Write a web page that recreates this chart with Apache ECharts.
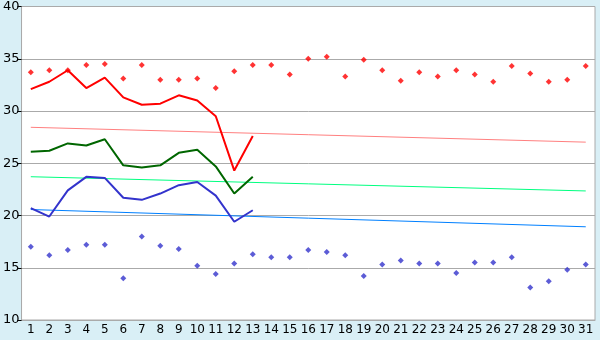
<!DOCTYPE html>
<html><head><meta charset="utf-8">
<script src="https://cdn.jsdelivr.net/npm/echarts@6/dist/echarts.min.js"></script>
<style>html,body{margin:0;padding:0;background:#d9eff6}#c{width:600px;height:340px}</style>
</head><body><div id="c"></div>
<script>
const days = ['1','2','3','4','5','6','7','8','9','10','11','12','13','14','15','16','17','18','19','20','21','22','23','24','25','26','27','28','29','30','31'];
const maxPoints = [33.7,33.9,33.9,34.4,34.5,33.1,34.4,33.0,33.0,33.1,32.2,33.8,34.4,34.4,33.5,35.0,35.2,33.3,34.9,33.9,32.9,33.7,33.3,33.9,33.5,32.8,34.3,33.6,32.8,33.0,34.3];
const minPoints = [17.0,16.2,16.7,17.2,17.2,14.0,18.0,17.1,16.8,15.2,14.4,15.4,16.3,16.0,16.0,16.7,16.5,16.2,14.2,15.3,15.7,15.4,15.4,14.5,15.5,15.5,16.0,13.1,13.7,14.8,15.3];
const maxLine = [32.1,32.8,33.9,32.2,33.2,31.3,30.6,30.7,31.5,31.0,29.5,24.3,27.6];
const meanLine = [26.1,26.2,26.9,26.7,27.3,24.8,24.6,24.8,26.0,26.3,24.7,22.1,23.7];
const minLine = [20.7,19.9,22.4,23.7,23.6,21.7,21.5,22.1,22.9,23.2,21.9,19.4,20.5];
const trendMax = [28.44, 27.02];
const trendMean = [23.71, 22.35];
const trendMin = [20.57, 18.92];
const yTicks = {min: 10, max: 40, interval: 5};

const chart = echarts.init(document.getElementById('c'));
const trend = (vals, color) => ({
  type: 'line', data: [[days[0], vals[0]], [days[days.length-1], vals[1]]],
  symbol: 'none', lineStyle: {color: color, width: 1}, z: 1, silent: true
});
chart.setOption({
  animation: false,
  backgroundColor: '#d9eff6',
  textStyle: {fontFamily: 'DejaVu Sans'},
  grid: {left: 20, right: 5, top: 5, bottom: 20, show: true, backgroundColor: '#ffffff', borderColor: '#aaaaaa', borderWidth: 1},
  xAxis: {
    type: 'category', data: days, boundaryGap: true,
    axisLine: {lineStyle: {color: '#aaaaaa', width: 1}},
    axisTick: {alignWithLabel: true, length: 5, lineStyle: {color: '#000'}},
    axisLabel: {color: '#000', fontSize: 12, margin: 4, interval: 0},
    splitLine: {show: false}
  },
  yAxis: {
    type: 'value', min: yTicks.min, max: yTicks.max, interval: yTicks.interval,
    axisLine: {show: true, lineStyle: {color: '#aaaaaa', width: 1}},
    axisTick: {show: true, length: 4, lineStyle: {color: '#000'}},
    axisLabel: {color: '#000', fontSize: 13, margin: 2},
    splitLine: {lineStyle: {color: '#aaaaaa', width: 1}}
  },
  series: [
    trend(trendMax, '#ff8080'),
    trend(trendMean, '#00ff80'),
    trend(trendMin, '#0080ff'),
    {type: 'line', data: maxLine, symbol: 'none', lineStyle: {color: '#ff0000', width: 2}, z: 3},
    {type: 'line', data: meanLine, symbol: 'none', lineStyle: {color: '#006600', width: 2}, z: 3},
    {type: 'line', data: minLine, symbol: 'none', lineStyle: {color: '#3333cc', width: 2}, z: 3},
    {type: 'scatter', data: maxPoints, symbol: 'diamond', symbolSize: 6, itemStyle: {color: '#ff0000'}, z: 4},
    {type: 'scatter', data: minPoints, symbol: 'diamond', symbolSize: 6, itemStyle: {color: '#3333cc'}, z: 4}
  ]
});
</script></body></html>
